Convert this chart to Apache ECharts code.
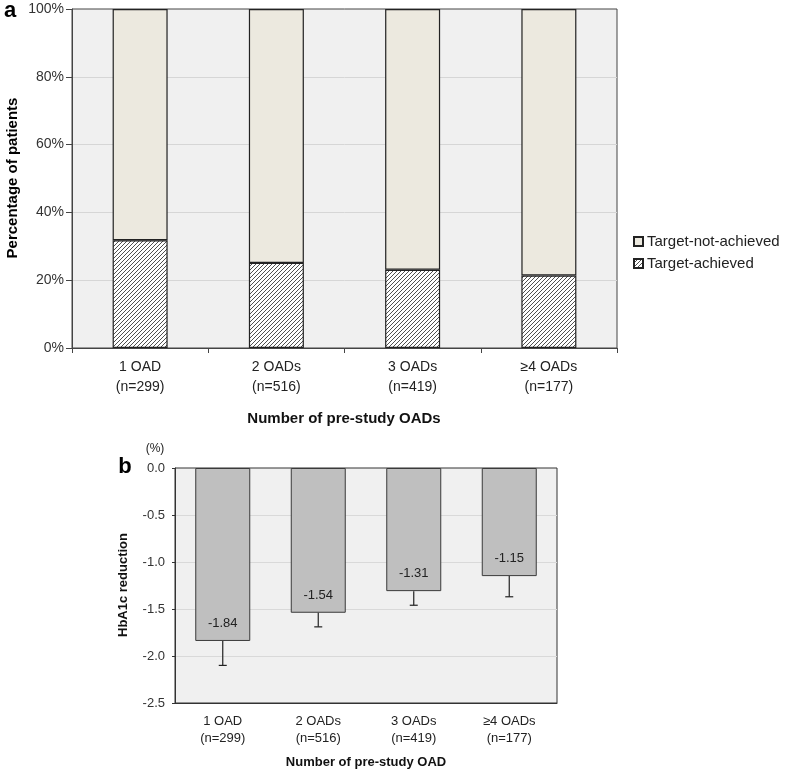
<!DOCTYPE html>
<html>
<head>
<meta charset="utf-8">
<script src="https://cdn.jsdelivr.net/npm/echarts@6/dist/echarts.min.js"></script>
<style>
html,body{margin:0;padding:0;background:#fff;}
#c{width:787px;height:773px;}
</style>
</head>
<body>
<div id="c"></div>
<script>
// ---- data ----
const categories = ['1 OAD', '2 OADs', '3 OADs', '≥4 OADs'];
const nLabels = ['(n=299)', '(n=516)', '(n=419)', '(n=177)'];
const achieved = [31.8, 25.1, 23.1, 21.4];
const notAchieved = [68.2, 74.9, 76.9, 78.6];
const hba1c = [-1.84, -1.54, -1.31, -1.15];
const hba1cErrLow = [-2.10, -1.69, -1.46, -1.37];
const pctTicks = [0, 20, 40, 60, 80, 100];

// hatch pattern
function hatch() {
  const s = 4;
  const cv = document.createElement('canvas');
  cv.width = s; cv.height = s;
  const ctx = cv.getContext('2d');
  ctx.fillStyle = '#ffffff';
  ctx.fillRect(0, 0, s, s);
  ctx.strokeStyle = '#505050';
  ctx.lineWidth = 1;
  ctx.beginPath();
  ctx.moveTo(0, s); ctx.lineTo(s, 0);
  ctx.moveTo(-1, 1); ctx.lineTo(1, -1);
  ctx.moveTo(s - 1, s + 1); ctx.lineTo(s + 1, s - 1);
  ctx.stroke();
  return { image: cv, repeat: 'repeat' };
}
const hatchFill = hatch();

const font = '"Liberation Sans", Arial, sans-serif';
const chart = echarts.init(document.getElementById('c'), null, { renderer: 'canvas' });

const catLabel = (v, i) => v + '\n' + nLabels[i];

chart.setOption({
  animation: false,
  textStyle: { fontFamily: font },
  grid: [
    { left: 72, top: 9, width: 545, height: 339, show: true, backgroundColor: '#f0f0f0', borderColor: '#444', borderWidth: 1 },
    { left: 175, top: 468, width: 382, height: 235, show: true, backgroundColor: '#f0f0f0', borderColor: '#333', borderWidth: 1 }
  ],
  legend: {
    orient: 'vertical', left: 628, top: 229, itemGap: 7,
    itemWidth: 9, itemHeight: 9, icon: 'rect',
    data: ['Target-not-achieved', 'Target-achieved'],
    textStyle: { fontSize: 15, color: '#222', fontFamily: font, padding: [0, 0, 0, -1] }
  },
  xAxis: [
    {
      gridIndex: 0, type: 'category', data: categories,
      axisLine: { show: true, lineStyle: { color: '#444', width: 1 } },
      axisTick: { show: true, alignWithLabel: false, length: 5, lineStyle: { color: '#444' } },
      axisLabel: { formatter: catLabel, fontSize: 14, lineHeight: 20, margin: 9, color: '#222' },
      splitLine: { show: false }
    },
    {
      gridIndex: 1, type: 'category', data: categories,
      position: 'bottom',
      axisLine: { show: true, onZero: false, lineStyle: { color: '#333', width: 1 } },
      axisTick: { show: false },
      axisLabel: { formatter: catLabel, fontSize: 13, lineHeight: 17, margin: 10, color: '#222' },
      splitLine: { show: false }
    }
  ],
  yAxis: [
    {
      gridIndex: 0, type: 'value', min: pctTicks[0], max: pctTicks[pctTicks.length - 1], interval: 20,
      axisLine: { show: true, lineStyle: { color: '#444', width: 1 } },
      axisTick: { show: true, length: 6, lineStyle: { color: '#444' } },
      axisLabel: { formatter: '{value}%', fontSize: 14, color: '#333', margin: 8 },
      splitLine: { show: true, showMinLine: false, showMaxLine: false, lineStyle: { color: '#d6d6d6', width: 1 } }
    },
    {
      gridIndex: 1, type: 'value', min: -2.5, max: 0, interval: 0.5,
      axisLine: { show: true, lineStyle: { color: '#333', width: 1 } },
      axisTick: { show: true, length: 3, lineStyle: { color: '#333' } },
      axisLabel: { formatter: v => v.toFixed(1), fontSize: 13, color: '#333', margin: 10 },
      splitLine: { show: true, showMinLine: false, showMaxLine: false, lineStyle: { color: '#d9d9d9', width: 1 } }
    }
  ],
  series: [
    {
      name: 'Target-achieved', type: 'bar', stack: 'a', xAxisIndex: 0, yAxisIndex: 0,
      data: achieved, barWidth: 55,
      itemStyle: { color: hatchFill, borderColor: '#222', borderWidth: 1.2 }
    },
    {
      name: 'Target-not-achieved', type: 'bar', stack: 'a', xAxisIndex: 0, yAxisIndex: 0,
      data: notAchieved, barWidth: 55,
      itemStyle: { color: '#ece9df', borderColor: '#222', borderWidth: 1.2 }
    },
    {
      name: 'HbA1c', type: 'bar', xAxisIndex: 1, yAxisIndex: 1,
      data: hba1c, barWidth: 55,
      itemStyle: { color: '#bfbfbf', borderColor: '#3a3a3a', borderWidth: 1 },
      label: {
        show: true, position: 'insideBottom', distance: 11,
        fontSize: 13, color: '#222', formatter: p => p.value.toFixed(2)
      }
    },
    {
      name: 'err', type: 'custom', xAxisIndex: 1, yAxisIndex: 1,
      data: hba1c.map((v, i) => [i, v, hba1cErrLow[i]]),
      encode: { x: 0, y: [1, 2] },
      z: 5,
      renderItem: function (params, api) {
        const x = api.value(0);
        const p1 = api.coord([x, api.value(1)]);
        const p2 = api.coord([x, api.value(2)]);
        const cap = 4;
        const st = { stroke: '#222', lineWidth: 1.2 };
        return {
          type: 'group',
          children: [
            { type: 'line', shape: { x1: p1[0], y1: p1[1], x2: p2[0], y2: p2[1] }, style: st },
            { type: 'line', shape: { x1: p2[0] - cap, y1: p2[1], x2: p2[0] + cap, y2: p2[1] }, style: st }
          ]
        };
      }
    }
  ],
  graphic: [
    { type: 'text', left: 4, top: 0, style: { text: 'a', font: 'bold 22px ' + font, fill: '#000' } },
    { type: 'text', x: 13, y: 178, rotation: Math.PI / 2, style: { text: 'Percentage of patients', font: 'bold 15px ' + font, fill: '#000', align: 'center', verticalAlign: 'middle' } },
    { type: 'text', x: 344, y: 419, style: { text: 'Number of pre-study OADs', font: 'bold 15px ' + font, fill: '#111', align: 'center', verticalAlign: 'middle' } },
    { type: 'text', x: 125, y: 467, style: { text: 'b', font: 'bold 22px ' + font, fill: '#000', align: 'center', verticalAlign: 'middle' } },
    { type: 'text', x: 155, y: 449, style: { text: '(%)', font: '12px ' + font, fill: '#222', align: 'center', verticalAlign: 'middle' } },
    { type: 'text', x: 123, y: 585, rotation: Math.PI / 2, style: { text: 'HbA1c reduction', font: 'bold 13px ' + font, fill: '#111', align: 'center', verticalAlign: 'middle' } },
    { type: 'text', x: 366, y: 762, style: { text: 'Number of pre-study OAD', font: 'bold 13px ' + font, fill: '#111', align: 'center', verticalAlign: 'middle' } }
  ]
});
</script>
</body>
</html>
